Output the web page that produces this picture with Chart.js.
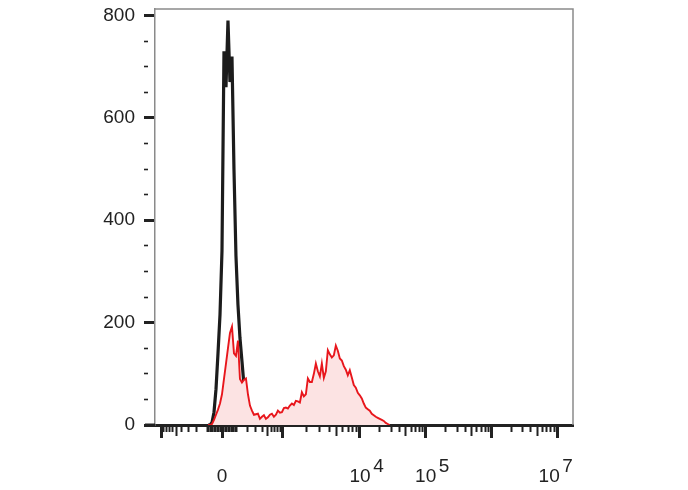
<!DOCTYPE html>
<html><head><meta charset="utf-8">
<script src="https://cdn.jsdelivr.net/npm/chart.js@4"></script>
<style>html,body{margin:0;padding:0;background:#fff}#wrap{width:688px;height:490px;position:relative}</style>
</head><body><div id="wrap"><canvas id="c"></canvas></div>
<script>
// Histogram bins on the display (biexponential) axis, in display decades
const binStart = -0.213;
const binStep = 0.0304;

// Black histogram (unstained / control)
const blackCounts = [0, 0, 5, 25, 70, 140, 215, 340, 730, 660, 790, 670, 720, 500, 330, 235, 170, 125, 78, 45, 28, 15, 8, 4, 2, 0];

// Red histogram (stained)
const redCounts = [0, 0, 2, 10, 20, 30, 42, 60, 90, 120, 150, 180, 192, 140, 135, 165, 90, 83, 88, 91,
  60, 38, 28, 20, 21, 22, 12, 16, 19, 12, 15, 20, 22, 16, 20, 28, 24, 25, 33, 34,
  32, 38, 42, 39, 47, 46, 44, 64, 56, 60, 91, 84, 84, 100, 120, 105, 95, 120, 92, 105,
  146, 138, 132, 136, 155, 145, 130, 126, 115, 108, 97, 107, 93, 78, 73, 63, 58, 52, 42, 34,
  31, 28, 22, 19, 16, 14, 12, 10, 8, 4, 2, 0];

// Y axis
const yMin = 0, yMax = 812.7;
const yTickValues = [0, 50, 100, 150, 200, 250, 300, 350, 400, 450, 500, 550, 600, 650, 700, 750, 800];
const yLabelValues = [0, 200, 400, 600, 800];

// X axis (fluorescence values), display range in display decades
const xMin = -1.0198, xMax = 5.3425;
const xMajorTicks = [-1000, 0, 1000, 1e4, 1e5, 1e6, 1e7];
const xMidTicks = [-500, 500, 5e3, 5e4, 5e5, 5e6];
const xMinorTicks = [
  -900, -800, -700, -600, -400, -300, -200, -100,
  -90, -80, -70, -60, -50, -40, -30, -20, -10,
  10, 20, 30, 40, 50, 60, 70, 80, 90,
  100, 200, 300, 400, 600, 700, 800, 900,
  2e3, 3e3, 4e3, 6e3, 7e3, 8e3, 9e3,
  2e4, 3e4, 4e4, 6e4, 7e4, 8e4, 9e4,
  2e5, 3e5, 4e5, 6e5, 7e5, 8e5, 9e5,
  2e6, 3e6, 4e6, 6e6, 7e6, 8e6, 9e6
];
const xTickLabels = [
  [0, ['', '0']],
  [1e4, ['       4', '10']],
  [1e5, ['       5', '10']],
  [1e7, ['    7', '10   ']]
];

// display transform (biexponential-like)
const U3 = 0.928, U4 = 2.1;
function toU(v) {
  const s = Math.sign(v), a = Math.abs(v);
  let u;
  if (a <= 1000) u = U3 * Math.asinh(a / 150) / Math.asinh(1000 / 150);
  else if (a <= 1e4) u = U3 + (U4 - U3) * Math.log10(a / 1000);
  else u = U4 + Math.log10(a / 1e4);
  return s * u;
}

const xTicks = []
  .concat(xMajorTicks.map(v => ({v, kind: 'major'})))
  .concat(xMidTicks.map(v => ({v, kind: 'mid'})))
  .concat(xMinorTicks.map(v => ({v, kind: 'minor'})))
  .sort((a, b) => a.v - b.v);

function xLabel(v) {
  const f = xTickLabels.find(e => e[0] === v);
  return f ? f[1] : '';
}

const redData = redCounts.map((c, i) => ({x: binStart + binStep * i, y: c}));
const blackData = blackCounts.map((c, i) => ({x: binStart + binStep * i, y: c}));

const FONT = "'Liberation Sans', Arial, Helvetica, sans-serif";

const framePlugin = {
  id: 'frame',
  beforeDatasetsDraw(chart) {
    const {ctx, chartArea: a} = chart;
    ctx.save();
    ctx.strokeStyle = '#8a8a8a';
    ctx.lineWidth = 1.5;
    ctx.beginPath();
    ctx.moveTo(a.left, a.top);
    ctx.lineTo(a.right, a.top);
    ctx.lineTo(a.right, a.bottom);
    ctx.stroke();
    ctx.strokeStyle = '#222';
    ctx.lineWidth = 3;
    ctx.beginPath();
    ctx.moveTo(a.left - 10, a.bottom);
    ctx.lineTo(a.left, a.bottom);
    ctx.stroke();
    ctx.restore();
  }
};

new Chart(document.getElementById('c'), {
  type: 'line',
  data: {
    datasets: [
      {
        label: 'stained',
        data: redData,
        borderColor: '#e8161c',
        borderWidth: 1.9,
        backgroundColor: '#fce3e3',
        fill: 'origin',
        pointRadius: 0,
        tension: 0
      },
      {
        label: 'control',
        data: blackData,
        borderColor: '#1c1c1c',
        borderWidth: 3.2,
        fill: false,
        pointRadius: 0,
        tension: 0
      }
    ]
  },
  options: {
    animation: false,
    responsive: true,
    maintainAspectRatio: false,
    layout: {padding: {left: 0, right: 115, top: 9, bottom: 0}},
    plugins: {legend: {display: false}, tooltip: {enabled: false}},
    scales: {
      x: {
        type: 'linear',
        min: xMin,
        max: xMax,
        z: 1,
        border: {color: '#222', width: 3},
        grid: {
          drawOnChartArea: false,
          tickLength: 13,
          tickColor: '#222',
          tickWidth: ctx => xTicks[ctx.index] && xTicks[ctx.index].kind === 'major' ? 3 : 2,
          tickBorderDash: ctx => {
            const t = xTicks[ctx.index];
            if (!t || t.kind === 'major') return [];
            return t.kind === 'mid' ? [9, 60] : [5, 60];
          }
        },
        ticks: {
          autoSkip: false,
          maxRotation: 0,
          minRotation: 0,
          padding: 24,
          color: '#222',
          font: {family: FONT, size: 19, lineHeight: 10 / 19},
          callback: (val, i) => xTicks[i] ? xLabel(xTicks[i].v) : ''
        },
        afterBuildTicks: s => { s.ticks = xTicks.map(t => ({value: toU(t.v)})); },
        afterFit: s => { s.height = 65; s.paddingLeft = 0; s.paddingRight = 0; }
      },
      y: {
        type: 'linear',
        min: yMin,
        max: yMax,
        border: {color: '#8a8a8a', width: 1.5},
        grid: {
          drawOnChartArea: false,
          tickLength: 11,
          tickColor: '#222',
          tickWidth: ctx => yLabelValues.includes(ctx.tick && ctx.tick.value) ? 3 : 1.6,
          tickBorderDash: ctx => yLabelValues.includes(ctx.tick && ctx.tick.value) ? [] : [4, 40]
        },
        ticks: {
          padding: 9,
          color: '#222',
          font: {family: FONT, size: 19},
          callback: v => yLabelValues.includes(v) ? String(v) : ''
        },
        afterBuildTicks: s => { s.ticks = yTickValues.map(v => ({value: v})); },
        afterFit: s => { s.width = 155; s.paddingTop = 0; s.paddingBottom = 0; }
      }
    }
  },
  plugins: [framePlugin]
});
</script>
</body></html>
